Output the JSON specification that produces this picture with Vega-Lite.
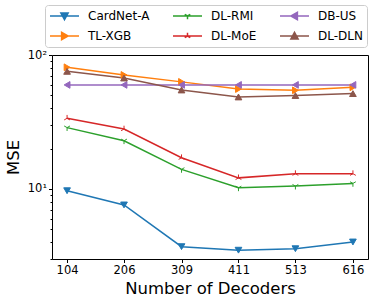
{
  "$schema": "https://vega.github.io/schema/vega-lite/v6.json",
  "width": 316,
  "height": 204,
  "autosize": {"type": "none"},
  "padding": {"left": 52, "top": 55, "right": 15, "bottom": 46},
  "config": {
    "font": "DejaVu Sans",
    "view": {"stroke": "#000000", "strokeWidth": 1},
    "axis": {"domain": false, "grid": false, "tickColor": "#000", "labelColor": "#000", "titleColor": "#000", "labelFont": "DejaVu Sans", "titleFont": "DejaVu Sans", "titleFontWeight": "normal"}
  },
  "data": {
    "values": [
      {"series": "CardNet-A", "x": 104, "y": 9.7},
      {"series": "CardNet-A", "x": 206, "y": 7.6},
      {"series": "CardNet-A", "x": 309, "y": 3.71},
      {"series": "CardNet-A", "x": 411, "y": 3.49},
      {"series": "CardNet-A", "x": 513, "y": 3.58},
      {"series": "CardNet-A", "x": 616, "y": 4.02},
      {"series": "TL-XGB", "x": 104, "y": 81},
      {"series": "TL-XGB", "x": 206, "y": 71},
      {"series": "TL-XGB", "x": 309, "y": 63},
      {"series": "TL-XGB", "x": 411, "y": 55.7},
      {"series": "TL-XGB", "x": 513, "y": 54.5},
      {"series": "TL-XGB", "x": 616, "y": 57.4},
      {"series": "DL-RMI", "x": 104, "y": 28.7},
      {"series": "DL-RMI", "x": 206, "y": 22.9},
      {"series": "DL-RMI", "x": 309, "y": 14.0},
      {"series": "DL-RMI", "x": 411, "y": 10.2},
      {"series": "DL-RMI", "x": 513, "y": 10.5},
      {"series": "DL-RMI", "x": 616, "y": 11.0},
      {"series": "DL-MoE", "x": 104, "y": 33.7},
      {"series": "DL-MoE", "x": 206, "y": 28.0},
      {"series": "DL-MoE", "x": 309, "y": 17.1},
      {"series": "DL-MoE", "x": 411, "y": 12.1},
      {"series": "DL-MoE", "x": 513, "y": 13.0},
      {"series": "DL-MoE", "x": 616, "y": 13.0},
      {"series": "DB-US", "x": 104, "y": 59.8},
      {"series": "DB-US", "x": 206, "y": 59.8},
      {"series": "DB-US", "x": 309, "y": 59.8},
      {"series": "DB-US", "x": 411, "y": 59.8},
      {"series": "DB-US", "x": 513, "y": 59.8},
      {"series": "DB-US", "x": 616, "y": 59.8},
      {"series": "DL-DLN", "x": 104, "y": 75.5},
      {"series": "DL-DLN", "x": 206, "y": 67.3},
      {"series": "DL-DLN", "x": 309, "y": 54.8},
      {"series": "DL-DLN", "x": 411, "y": 48.6},
      {"series": "DL-DLN", "x": 513, "y": 49.8},
      {"series": "DL-DLN", "x": 616, "y": 51.5}
    ]
  },
  "layer": [
    {
      "mark": {"type": "line", "strokeWidth": 1.5},
      "encoding": {
        "x": {
          "field": "x", "type": "quantitative",
          "scale": {"domain": [77, 643], "nice": false, "zero": false},
          "axis": {"values": [104, 206, 309, 411, 513, 616], "tickSize": 3.5, "labelFontSize": 11.5, "labelPadding": 2, "title": "Number of Decoders", "titleFontSize": 16.5, "titlePadding": 4}
        },
        "y": {
          "field": "y", "type": "quantitative",
          "scale": {"type": "log", "domain": [3, 100], "nice": false},
          "axis": {"values": [10, 100], "labelExpr": "datum.value == 10 ? '10¹' : '10²'", "tickSize": 3.5, "labelFontSize": 11.5, "labelPadding": 2, "title": "MSE", "titleFontSize": 16.5, "titlePadding": 6, "orient": "left"}
        },
        "color": {
          "field": "series", "type": "nominal",
          "scale": {"domain": ["CardNet-A", "TL-XGB", "DL-RMI", "DL-MoE", "DB-US", "DL-DLN"], "range": ["#1f77b4", "#ff7f0e", "#2ca02c", "#d62728", "#9467bd", "#8c564b"]},
          "legend": {
            "orient": "none", "legendX": -7, "legendY": -50, "columns": 3, "title": null,
            "labelFontSize": 12, "labelFont": "DejaVu Sans", "labelColor": "#000",
            "symbolSize": 841, "clipHeight": 14, "rowPadding": 6, "columnPadding": 22, "labelOffset": 8,
            "padding": 4, "strokeColor": "#cccccc", "fillColor": "#ffffff", "cornerRadius": 3,
            "encode": {
              "symbols": {
                "update": {
                  "shape": {"signal": "datum.value === 'CardNet-A' ? 'M-1,0L1,0M-0.25,-0.2L0.25,-0.2L0,0.25Z' : datum.value === 'DL-RMI' ? 'M-1,0L1,0M0,0L0,0.22M0,0L-0.19,-0.11M0,0L0.19,-0.11' : datum.value === 'DB-US' ? 'M-1,0L1,0M0.2,-0.25L0.2,0.25L-0.25,0Z' : datum.value === 'TL-XGB' ? 'M-1,0L1,0M-0.2,-0.25L-0.2,0.25L0.25,0Z' : datum.value === 'DL-MoE' ? 'M-1,0L1,0M0,0L0,-0.22M0,0L-0.19,0.11M0,0L0.19,0.11' : 'M-1,0L1,0M-0.25,0.2L0.25,0.2L0,-0.25Z'"},
                  "fill": {"scale": "color", "field": "value"},
                  "stroke": {"scale": "color", "field": "value"},
                  "strokeWidth": {"value": 1.5},
                  "opacity": {"value": 1},
                  "fillOpacity": {"value": 1},
                  "strokeOpacity": {"value": 1}
                }
              }
            }
          }
        }
      }
    },
    {
      "transform": [{"filter": "datum.series === 'CardNet-A'"}],
      "mark": {"type": "point", "filled": true, "size": 45, "opacity": 1, "strokeWidth": 1, "shape": "triangle-down", "color": "#1f77b4", "stroke": "#1f77b4"},
      "encoding": {
        "x": {"field": "x", "type": "quantitative"},
        "y": {
          "field": "y", "type": "quantitative",
          "axis": {"values": [3, 4, 5, 6, 7, 8, 9, 20, 30, 40, 50, 60, 70, 80, 90], "labels": false, "tickSize": 2, "title": null, "orient": "left"}
        }
      }
    },
    {
      "transform": [{"filter": "datum.series === 'TL-XGB'"}],
      "mark": {"type": "point", "filled": true, "size": 45, "opacity": 1, "strokeWidth": 1, "shape": "triangle-right", "color": "#ff7f0e", "stroke": "#ff7f0e"},
      "encoding": {
        "x": {"field": "x", "type": "quantitative"},
        "y": {"field": "y", "type": "quantitative", "axis": null}
      }
    },
    {
      "transform": [{"filter": "datum.series === 'DL-RMI'"}],
      "mark": {"type": "point", "filled": true, "size": 45, "opacity": 1, "strokeWidth": 1, "shape": "M0,0L0,1M0,0L-0.866,-0.5M0,0L0.866,-0.5", "color": "#2ca02c", "stroke": "#2ca02c"},
      "encoding": {
        "x": {"field": "x", "type": "quantitative"},
        "y": {"field": "y", "type": "quantitative", "axis": null}
      }
    },
    {
      "transform": [{"filter": "datum.series === 'DL-MoE'"}],
      "mark": {"type": "point", "filled": true, "size": 45, "opacity": 1, "strokeWidth": 1, "shape": "M0,0L0,-1M0,0L-0.866,0.5M0,0L0.866,0.5", "color": "#d62728", "stroke": "#d62728"},
      "encoding": {
        "x": {"field": "x", "type": "quantitative"},
        "y": {"field": "y", "type": "quantitative", "axis": null}
      }
    },
    {
      "transform": [{"filter": "datum.series === 'DB-US'"}],
      "mark": {"type": "point", "filled": true, "size": 45, "opacity": 1, "strokeWidth": 1, "shape": "triangle-left", "color": "#9467bd", "stroke": "#9467bd"},
      "encoding": {
        "x": {"field": "x", "type": "quantitative"},
        "y": {"field": "y", "type": "quantitative", "axis": null}
      }
    },
    {
      "transform": [{"filter": "datum.series === 'DL-DLN'"}],
      "mark": {"type": "point", "filled": true, "size": 45, "opacity": 1, "strokeWidth": 1, "shape": "triangle-up", "color": "#8c564b", "stroke": "#8c564b"},
      "encoding": {
        "x": {"field": "x", "type": "quantitative"},
        "y": {"field": "y", "type": "quantitative", "axis": null}
      }
    }
  ],
  "resolve": {"axis": {"y": "independent"}}
}
